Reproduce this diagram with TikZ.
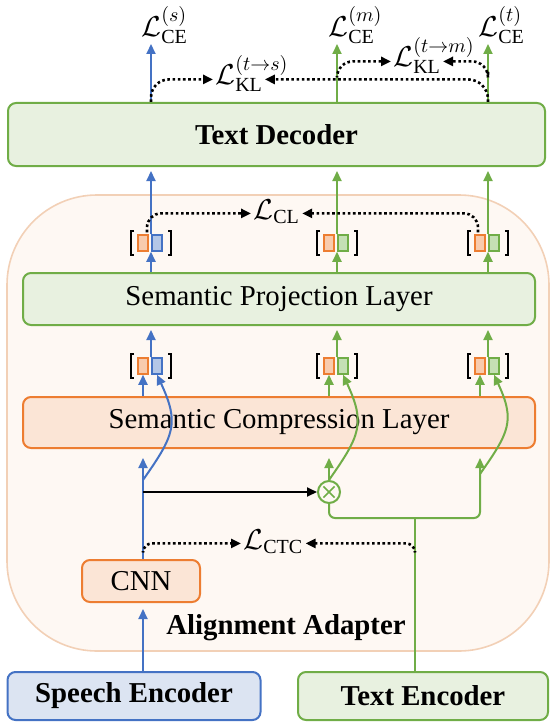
\documentclass[tikz,border=0pt]{standalone}
\usepackage{fontspec}
\setmainfont{Liberation Serif}
\usetikzlibrary{arrows.meta}

\definecolor{blueD}{HTML}{4472C4}
\definecolor{blueL}{HTML}{DCE4F2}
\definecolor{blueS}{HTML}{B4C7E7}
\definecolor{greenD}{HTML}{70AD47}
\definecolor{greenL}{HTML}{E8F1E0}
\definecolor{greenS}{HTML}{C5E0B4}
\definecolor{orangeD}{HTML}{ED7D31}
\definecolor{orangeL}{HTML}{FBE5D6}
\definecolor{orangeS}{HTML}{F8CBAD}
\definecolor{adaptL}{HTML}{FEF8F3}
\definecolor{adaptD}{HTML}{F2D0B6}

\begin{document}
\begin{tikzpicture}
    [
        x = 0.5pt, y = -0.5pt,
        every node/.style = {font=\fontsize{14.4}{17}\selectfont},
        bold/.style = {font=\fontsize{14.4}{17}\selectfont\bfseries},
        block/.style = {draw, line width=1pt, rounded corners=4pt, inner sep=0pt},
        greenbox/.style = {block, draw=greenD, fill=greenL},
        orangebox/.style = {block, draw=orangeD, fill=orangeL},
        bluebox/.style = {block, draw=blueD, fill=blueL},
        flow/.style = {line width=1pt, -{Triangle[length=5pt,width=4.5pt]}},
        blueflow/.style = {flow, blueD},
        greenflow/.style = {flow, greenD},
        lossflow/.style = {line width=1.3pt, dash pattern=on 1.3pt off 1.3pt,
            -{Triangle[length=5pt,width=4.5pt]}, shorten >=1pt},
        loss/.style = {inner sep=0pt},
        cell/.style = {draw, line width=0.75pt, minimum width=5pt, minimum height=8pt, inner sep=0pt},
        pics/vecpair/.style = {code = {
            \node[cell, draw=orangeD, fill=orangeS] (-o) at (-8,0) {};
            \node[cell, draw=#1D, fill=#1S] (-c) at (6,0) {};
            \draw[line width=0.8pt] (-17,-12) -- (-20,-12) -- (-20,12) -- (-17,12)
                (17,-12) -- (20,-12) -- (20,12) -- (17,12);
        }},
    ]
    \useasboundingbox (0,0) rectangle (552,722);

    \node[block, draw=adaptD, fill=adaptL, line width=0.8pt, rounded corners=45pt,
        minimum width=271pt, minimum height=228pt] (ada) at (278,423) {};

    \node[greenbox, bold, minimum width=268.5pt, minimum height=31.5pt] (dec) at (276.5,134.5) {Text Decoder};
    \node[greenbox, minimum width=256pt, minimum height=26pt] (spl) at (279,299) {Semantic Projection Layer};
    \node[orangebox, minimum width=256pt, minimum height=25.5pt] (scl) at (279,422.5) {Semantic Compression Layer};
    \node[orangebox, minimum width=59pt, minimum height=21pt] (cnn) at (141,581) {CNN};
    \node[bluebox, bold, minimum width=126.5pt, minimum height=24pt] (spe) at (134,696) {Speech Encoder};
    \node[greenbox, bold, minimum width=125pt, minimum height=24pt] (tenc) at (423,696) {Text Encoder};
    \node[bold] (adaT) at (286,628) {Alignment Adapter};

    \coordinate (xA) at (151,0);
    \coordinate (xB) at (337,0);
    \coordinate (xC) at (488,0);

    \pic (pUA) at (151,243) {vecpair=blue};
    \pic (pUB) at (337,243) {vecpair=green};
    \pic (pUC) at (488,243) {vecpair=green};
    \pic (pLA) at (151,366) {vecpair=blue};
    \pic (pLB) at (337,366) {vecpair=green};
    \pic (pLC) at (488,366) {vecpair=green};

    \node[circle, draw=greenD, fill=adaptL, line width=1pt, minimum size=11pt, inner sep=0pt,
        path picture={\draw[greenD, line width=0.8pt]
            ([shift={(-2.8pt,-2.8pt)}]path picture bounding box.center) -- ([shift={(2.8pt,2.8pt)}]path picture bounding box.center)
            ([shift={(-2.8pt,2.8pt)}]path picture bounding box.center) -- ([shift={(2.8pt,-2.8pt)}]path picture bounding box.center);}]
        (mul) at (329,492) {};

    \node[loss, anchor=south west] (ceS) at (141,44) {$\mathcal{L}^{(s)}_{\mathrm{CE}}$};
    \node[loss, anchor=south west] (ceM) at (328,44) {$\mathcal{L}^{(m)}_{\mathrm{CE}}$};
    \node[loss, anchor=south west] (ceT) at (478,44) {$\mathcal{L}^{(t)}_{\mathrm{CE}}$};
    \node[loss, anchor=base west] (klS) at (215,85) {$\mathcal{L}^{(t\to s)}_{\mathrm{KL}}$};
    \node[loss, anchor=base west] (klM) at (393,67) {$\mathcal{L}^{(t\to m)}_{\mathrm{KL}}$};
    \node[loss, anchor=base west] (cl) at (253,219) {$\mathcal{L}_{\mathrm{CL}}$};
    \node[loss, anchor=base west] (ctc) at (243,549) {$\mathcal{L}_{\mathrm{CTC}}$};

    \draw[blueflow] (dec.north -| xA) -- (xA |- ceS.south);
    \draw[greenflow] (dec.north -| xB) -- (xB |- ceM.south);
    \draw[greenflow] (dec.north -| xC) -- (xC |- ceT.south);

    \draw[lossflow, rounded corners=9pt] (dec.north -| xA) |- ([yshift=2.8pt]klS.base west);
    \draw[lossflow, rounded corners=10pt] (dec.north -| xC) |- ([xshift=-13pt,yshift=2.8pt]klS.base east);
    \draw[lossflow, rounded corners=8pt] ([yshift=13pt]dec.north -| xB) |- ([yshift=2.8pt]klM.base west);
    \draw[lossflow, rounded corners=8pt] ([yshift=15pt]dec.north -| xC) |- ([xshift=-17pt,yshift=2.8pt]klM.base east);

    \draw[blueflow, shorten >=2pt] (xA |- pUA-o.north) -- (dec.south -| xA);
    \draw[greenflow, shorten >=2pt] (xB |- pUB-o.north) -- (dec.south -| xB);
    \draw[greenflow, shorten >=2pt] (xC |- pUC-o.north) -- (dec.south -| xC);

    \draw[lossflow, rounded corners=7pt] ([shift={(-2pt,1pt)}]xA |- pUA-o.north) |- ([yshift=2.8pt]cl.base west);
    \draw[lossflow, rounded corners=7pt] ([shift={(-5pt,1pt)}]xC |- pUC-o.north) |- ([yshift=2.8pt]cl.base east);

    \draw[blueflow] (spl.north -| xA) -- (xA |- pUA-o.south);
    \draw[greenflow] (spl.north -| xB) -- (xB |- pUB-o.south);
    \draw[greenflow] (spl.north -| xC) -- (xC |- pUC-o.south);

    \draw[blueflow, shorten >=2pt] (xA |- pLA-o.north) -- (spl.south -| xA);
    \draw[greenflow, shorten >=2pt] (xB |- pLB-o.north) -- (spl.south -| xB);
    \draw[greenflow, shorten >=2pt] (xC |- pLC-o.north) -- (spl.south -| xC);

    \draw[blueflow] (scl.north -| pLA-o) -- (pLA-o.south);
    \draw[greenflow] (scl.north -| pLB-o) -- (pLB-o.south);
    \draw[greenflow] (scl.north -| pLC-o) -- (pLC-o.south);

    \coordinate (jA) at (143,492);
    \coordinate (jC) at (480,518);
    \coordinate (jT) at (415,518);

    \draw[blueflow, shorten >=3pt] (spe.north -| pLA-o) -- (cnn.south -| pLA-o);
    \draw[blueflow, shorten >=4.5pt] (cnn.north -| pLA-o) -- (scl.south -| pLA-o);
    \draw[flow] (jA) -- (mul.west);
    \draw[blueflow] ([yshift=6pt]jA) to[out=55, in=-65, looseness=1.3] (pLA-c.south);

    \draw[greenflow, shorten >=4.5pt] (mul.north) -- (scl.south -| mul);
    \draw[greenflow] (mul.north) to[out=55, in=-65, looseness=1.3] (pLB-c.south);
    \draw[greenflow, rounded corners=3pt, shorten >=4.5pt] (mul.south) |- (jC) -- (scl.south -| jC);
    \draw[greenflow] ([yshift=22pt]jC) to[out=55, in=-65, looseness=1.3] (pLC-c.south);
    \draw[greenD, line width=1pt] (tenc.north -| jT) -- (jT);

    \draw[lossflow, rounded corners=4.5pt] ([yshift=4pt]cnn.north -| pLA-o) |- ([yshift=2.8pt]ctc.base west);
    \draw[lossflow, rounded corners=4.5pt] ([yshift=4pt]cnn.north -| jT) |- ([yshift=2.8pt]ctc.base east);
\end{tikzpicture}
\end{document}
